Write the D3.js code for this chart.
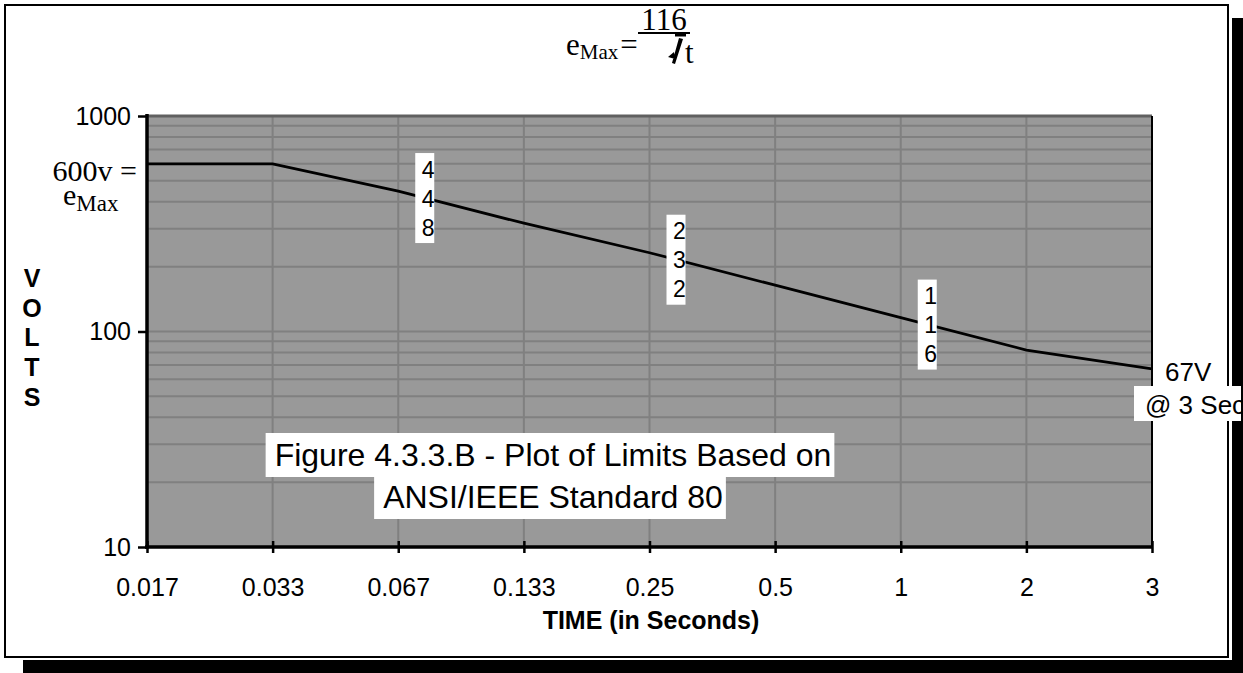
<!DOCTYPE html>
<html>
<head>
<meta charset="utf-8">
<script src="https://cdn.jsdelivr.net/npm/d3@7"></script>
<style>
  body { margin: 0; background: #fff; }
  text { font-family: "Liberation Sans", Arial, sans-serif; }
  .serif { font-family: "Liberation Serif", "Times New Roman", serif; }
</style>
</head>
<body>
<svg id="chart" width="1243" height="673"></svg>
<script>
// data
const times = ["0.017", "0.033", "0.067", "0.133", "0.25", "0.5", "1", "2", "3"];
const volts = [600, 600, 448, 318, 232, 164, 116, 82, 67];
const majorTicks = [10, 100, 1000];
const calloutAt = ["0.067", "0.25", "1"];
const calloutText = ["448", "232", "116"];
const axisLetters = ["V", "O", "L", "T", "S"];
const titleLines = ["Figure 4.3.3.B - Plot of Limits Based on", "ANSI/IEEE Standard 80"];

const svg = d3.select("#chart");

// frame
svg.append("rect")
  .attr("x", 5).attr("y", 5).attr("width", 1223).attr("height", 652)
  .attr("fill", "#fff").attr("stroke", "#000").attr("stroke-width", 2);

const x = d3.scalePoint().domain(times).range([147, 1152]);
const y = d3.scaleLog().domain([10, 1000]).range([547, 116]);

// plot area
svg.append("rect")
  .attr("x", 147).attr("y", 116).attr("width", 1152 - 147).attr("height", 547 - 116)
  .attr("fill", "#999999");

// grid
svg.append("g").selectAll("line").data(y.ticks())
  .enter().append("line")
  .attr("x1", 147).attr("x2", 1152)
  .attr("y1", d => y(d)).attr("y2", d => y(d))
  .attr("stroke", "#808080").attr("stroke-width", 2);

svg.append("g").selectAll("line").data(times)
  .enter().append("line")
  .attr("x1", d => x(d)).attr("x2", d => x(d))
  .attr("y1", 116).attr("y2", 547)
  .attr("stroke", "#808080").attr("stroke-width", 2);

// border lines of plot
svg.append("line").attr("x1", 147).attr("x2", 1152).attr("y1", 116).attr("y2", 116)
  .attr("stroke", "#606060").attr("stroke-width", 3);
svg.append("line").attr("x1", 1152).attr("x2", 1152).attr("y1", 116).attr("y2", 547)
  .attr("stroke", "#000").attr("stroke-width", 2);

// the limit line
const line = d3.line().x((d, i) => x(times[i])).y(d => y(d));
svg.append("path").datum(volts)
  .attr("d", line)
  .attr("fill", "none").attr("stroke", "#000").attr("stroke-width", 2.8);

// axes
const yAxis = d3.axisLeft(y).tickValues(majorTicks).tickFormat(d3.format("d"))
  .tickSize(9).tickPadding(7);
const gy = svg.append("g").attr("transform", "translate(147,0)").call(yAxis);
gy.select(".domain").remove();
gy.selectAll(".tick line").attr("stroke", "#000").attr("stroke-width", 2.5);
gy.selectAll(".tick text").attr("font-size", 25).attr("fill", "#000")
  .attr("font-family", "Liberation Sans, Arial, sans-serif");

const xAxis = d3.axisBottom(x).tickSize(6);
const gx = svg.append("g").attr("transform", "translate(0,547)").call(xAxis);
gx.select(".domain").remove();
gx.selectAll(".tick line").attr("y1", -6).attr("y2", 6)
  .attr("stroke", "#000").attr("stroke-width", 2.5);
gx.selectAll(".tick text").attr("font-size", 25).attr("fill", "#000")
  .attr("font-family", "Liberation Sans, Arial, sans-serif")
  .attr("y", 49).attr("dy", 0);

svg.append("line").attr("x1", 147).attr("x2", 147).attr("y1", 114).attr("y2", 549)
  .attr("stroke", "#000").attr("stroke-width", 3.5);
svg.append("line").attr("x1", 145).attr("x2", 1153).attr("y1", 547).attr("y2", 547)
  .attr("stroke", "#000").attr("stroke-width", 3.5);

// axis titles
svg.append("text")
  .attr("x", 651).attr("y", 629)
  .attr("text-anchor", "middle").attr("font-size", 25).attr("font-weight", "bold")
  .text("TIME (in Seconds)");

svg.append("g").selectAll("text").data(axisLetters)
  .enter().append("text")
  .attr("x", 32).attr("y", (d, i) => 287 + i * 29.7)
  .attr("text-anchor", "middle").attr("font-size", 25).attr("font-weight", "bold")
  .text(d => d);

// vertical callouts on the line
calloutAt.forEach((cat, k) => {
  const i = times.indexOf(cat);
  const f = 27 / x.step();
  const lv = Math.log10(volts[i]) + f * (Math.log10(volts[i + 1]) - Math.log10(volts[i]));
  const cy = y(Math.pow(10, lv));
  svg.append("rect")
    .attr("x", x(cat) + 17).attr("y", cy - 45).attr("width", 19).attr("height", 90)
    .attr("fill", "#fff");
  svg.append("g").selectAll("text").data(calloutText[k].split(""))
    .enter().append("text")
    .attr("x", x(cat) + 30).attr("y", (d, j) => cy + (j - 1) * 29 + 8.5)
    .attr("text-anchor", "middle").attr("font-size", 23)
    .text(d => d);
});

// 600v = e_Max
svg.append("text").attr("class", "serif").attr("x", 137).attr("y", 181)
  .attr("text-anchor", "end").attr("font-size", 30).text("600v =");
const em1 = svg.append("text").attr("class", "serif").attr("x", 63).attr("y", 205)
  .attr("font-size", 30);
em1.append("tspan").text("e");
em1.append("tspan").attr("font-size", 23).attr("dy", 6).text("Max");

// formula at top
const ft = svg.append("text").attr("class", "serif").attr("x", 566).attr("y", 55)
  .attr("font-size", 31);
ft.append("tspan").text("e");
ft.append("tspan").attr("font-size", 21).attr("dy", 4).text("Max");
ft.append("tspan").attr("dy", -4).attr("dx", 2).text("=");
svg.append("line").attr("x1", 638).attr("x2", 690).attr("y1", 33).attr("y2", 33)
  .attr("stroke", "#000").attr("stroke-width", 2);
svg.append("line").attr("x1", 675).attr("x2", 686).attr("y1", 34.5).attr("y2", 34.5)
  .attr("stroke", "#000").attr("stroke-width", 4);
// radical sign as a bold check stroke
svg.append("path")
  .attr("d", "M679,38 L683,39 L675,64 L672,63 Z M668,57 L674,52 L675,59 Z")
  .attr("fill", "#000");
svg.append("text").attr("class", "serif").attr("x", 664).attr("y", 30)
  .attr("text-anchor", "middle").attr("font-size", 31).text("116");
svg.append("text").attr("class", "serif").attr("x", 685).attr("y", 63)
  .attr("font-size", 31).text("t");

// figure title
const tl = [466, 508];
titleLines.forEach((s, i) => {
  const t = svg.append("text").attr("x", 553).attr("y", tl[i])
    .attr("text-anchor", "middle").attr("font-size", 32).text(s);
  const b = t.node().getBBox();
  svg.insert("rect", () => t.node())
    .attr("x", b.x - 9).attr("y", i === 0 ? 433 : 477)
    .attr("width", b.width + 12).attr("height", i === 0 ? 44 : 42)
    .attr("fill", "#fff");
});

// end labels
svg.append("text").attr("x", 1165).attr("y", 381).attr("font-size", 26).text("67V");

// shadow
svg.append("rect").attr("x", 1232).attr("y", 18).attr("width", 11).attr("height", 655).attr("fill", "#000");
svg.append("rect").attr("x", 23).attr("y", 660).attr("width", 1220).attr("height", 13).attr("fill", "#000");

svg.append("clipPath").attr("id", "secClip")
  .append("rect").attr("x", 1134).attr("y", 386).attr("width", 107).attr("height", 35);
svg.append("rect").attr("x", 1134).attr("y", 386).attr("width", 107).attr("height", 35).attr("fill", "#fff");
svg.append("text").attr("x", 1145).attr("y", 414).attr("font-size", 26)
  .attr("clip-path", "url(#secClip)").text("@ 3 Sec");
</script>
</body>
</html>
